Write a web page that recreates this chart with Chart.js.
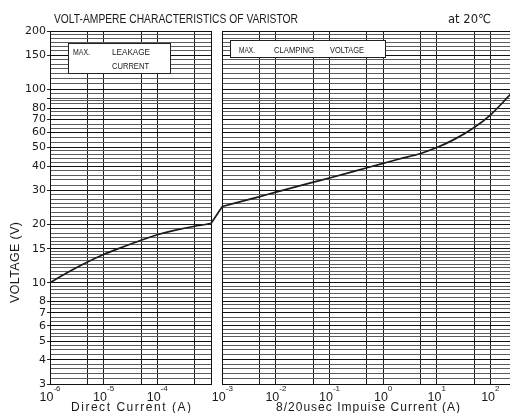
<!DOCTYPE html>
<html>
<head>
<meta charset="utf-8">
<title>Volt-ampere characteristics of varistor</title>
<script src="https://cdn.jsdelivr.net/npm/chart.js@4.4.1/dist/chart.umd.min.js"></script>
<style>
  html, body { margin: 0; padding: 0; background: #fff; }
  canvas { display: block; }
</style>
</head>
<body>
<canvas id="viChart" width="510" height="413"></canvas>
<script>
// leakage side: DC current (A) -> max voltage (V)
const dcCurrent = [1e-6, 2e-6, 5e-6, 1e-5, 2e-5, 5e-5, 1e-4, 2e-4, 5e-4, 1e-3];
const dcVoltage = [10, 11.2, 12.8, 14.0, 15.1, 16.6, 17.7, 18.6, 19.6, 20.2];

// clamping side: 8/20us impulse current (A) -> max voltage (V)
const impCurrent = [1e-3, 5e-3, 1e-2, 5e-2, 1e-1, 5e-1, 1, 2, 5, 10, 20, 50, 100, 237];
const impVoltage = [24.8, 27.9, 29.4, 33.1, 34.8, 39.3, 41.4, 43.6, 46.6, 50, 54.6, 63.5, 73.6, 94];

// voltage axis
const voltLabels = [3, 4, 5, 6, 7, 8, 10, 15, 20, 30, 40, 50, 60, 70, 80, 100, 150, 200];
const voltTickMarks = voltLabels.concat([90]);
const voltGrid = [
  3, 3.2, 3.4, 3.6, 3.8, 4, 4.25, 4.5, 4.75, 5, 5.25, 5.5, 5.75, 6, 6.3, 6.6, 7, 7.4, 7.7,
  8, 8.4, 8.8, 9.2, 9.6, 10, 10.5, 11, 11.5, 12, 12.5, 13, 13.5, 14, 14.5,
  15, 15.7, 16.4, 17.2, 18, 19, 20, 21, 22, 23.2, 24.4, 25.6, 27, 28.5,
  30, 32, 34, 36, 38, 40, 42, 44, 46, 48, 50, 53, 56, 60, 63, 66, 70, 73, 76.5,
  80, 84, 88, 90, 95, 100, 107, 114, 121, 128, 135, 142, 150, 158, 166, 174, 182, 191, 200
];

// current axis: labelled decades and vertical rules
const dcExponents = [-6, -5, -4];
const impExponents = [-3, -2, -1, 0, 1, 2];
const dcGridCurrent = [5e-6, 1e-5, 5e-5, 1e-4, 5e-4];
const impGridCurrent = [5e-3, 1e-2, 5e-2, 1e-1, 5e-1, 1, 5, 10, 50, 100];

// both panels live on one linear axis measured in decades,
// the impulse panel is pushed right by GAP to leave a blank strip
const GAP = 0.215;
const U_MIN = -6, U_MAX = 2.582;
const dcU = (a) => Math.log10(a);
const impU = (a) => Math.log10(a) + GAP;

const FONT = '"Liberation Sans", Arial, sans-serif';
const INK = '#1a1a1a';

// draws text starting at x so it spans `width`: letter-spaced if short, squeezed if long
function fitText(ctx, text, x, y, width) {
  ctx.letterSpacing = '0px';
  const natural = ctx.measureText(text).width;
  if (natural < width && text.length > 1 && 'letterSpacing' in ctx) {
    ctx.letterSpacing = ((width - natural) / (text.length - 1)).toFixed(2) + 'px';
    ctx.fillText(text, x, y);
    ctx.letterSpacing = '0px';
  } else {
    ctx.fillText(text, x, y, width);
  }
}

function drawPower(ctx, cx, exp, baseY) {
  const sup = exp < 0 ? '-' + (-exp) : String(exp);
  ctx.font = '12.5px ' + FONT;
  const w1 = ctx.measureText('10').width;
  ctx.font = '8px ' + FONT;
  const w2 = ctx.measureText(sup).width;
  const x0 = cx - (w1 + w2) / 2;
  ctx.font = '12.5px ' + FONT;
  ctx.fillText('10', x0, baseY);
  ctx.font = '8px ' + FONT;
  ctx.fillText(sup, x0 + w1, baseY - 10);
}

function labelBox(ctx, x, y, w, h) {
  ctx.fillStyle = '#fff';
  ctx.fillRect(x, y, w, h);
  ctx.strokeStyle = '#222';
  ctx.lineWidth = 1;
  ctx.strokeRect(x + 0.5, y + 0.5, w, h);
}

const panelDecor = {
  id: 'panelDecor',
  beforeDatasetsDraw(chart) {
    const { ctx, chartArea: a, scales: { x } } = chart;
    const dcEnd = Math.round(x.getPixelForValue(dcU(1e-3)));
    const impStart = Math.round(x.getPixelForValue(impU(1e-3)));
    const top = Math.round(a.top), bottom = Math.round(a.bottom), left = Math.round(a.left);
    ctx.save();
    // blank strip between the panels
    ctx.fillStyle = '#fff';
    ctx.fillRect(dcEnd + 1, top - 1, impStart - dcEnd - 1, bottom - top + 2);
    // panel frames
    ctx.strokeStyle = '#111';
    ctx.lineWidth = 1;
    ctx.strokeRect(left + 0.5, top + 0.5, dcEnd - left, bottom - top);
    ctx.beginPath();
    ctx.moveTo(a.right, top + 0.5);
    ctx.lineTo(impStart + 0.5, top + 0.5);
    ctx.lineTo(impStart + 0.5, bottom + 0.5);
    ctx.lineTo(a.right, bottom + 0.5);
    ctx.stroke();

    // panel captions
    ctx.textBaseline = 'alphabetic';
    ctx.textAlign = 'left';
    labelBox(ctx, left + 18, top + 12, 102, 30);
    ctx.fillStyle = INK;
    ctx.font = '9px ' + FONT;
    fitText(ctx, 'MAX.', left + 23, top + 24, 17);
    fitText(ctx, 'LEAKAGE', left + 62, top + 24, 38);
    fitText(ctx, 'CURRENT', left + 62, top + 38, 37);

    labelBox(ctx, impStart + 8, top + 9, 155, 17);
    ctx.fillStyle = INK;
    fitText(ctx, 'MAX.', impStart + 17, top + 22, 16);
    fitText(ctx, 'CLAMPING', impStart + 52, top + 22, 40);
    fitText(ctx, 'VOLTAGE', impStart + 108, top + 22, 34);
    ctx.restore();
  },
  afterDraw(chart) {
    const { ctx, chartArea: a, scales: { x } } = chart;
    ctx.save();
    ctx.fillStyle = INK;
    ctx.textAlign = 'left';
    ctx.textBaseline = 'alphabetic';

    ctx.font = '13px ' + FONT;
    fitText(ctx, 'VOLT-AMPERE CHARACTERISTICS OF VARISTOR', 54, 23, 244);
    ctx.font = '12.5px "DejaVu Sans", ' + FONT;
    fitText(ctx, 'at 20℃', 448, 23, 43);

    // decade labels under both panels
    const baseY = a.bottom + 17;
    dcExponents.forEach((e) => drawPower(ctx, x.getPixelForValue(dcU(Math.pow(10, e))), e, baseY));
    impExponents.forEach((e) => drawPower(ctx, x.getPixelForValue(impU(Math.pow(10, e))), e, baseY));

    ctx.font = '12px ' + FONT;
    fitText(ctx, 'Direct Current (A)', 71, 411, 120);
    fitText(ctx, '8/20usec Impuise Current (A)', 276, 411, 184);

    // rotated voltage title
    ctx.translate(19, 303);
    ctx.rotate(-Math.PI / 2);
    ctx.font = '12.5px ' + FONT;
    fitText(ctx, 'VOLTAGE (V)', 0, 0, 81);
    ctx.restore();
  }
};

new Chart(document.getElementById('viChart'), {
  type: 'line',
  data: {
    datasets: [
      {
        data: dcCurrent.map((c, i) => ({ x: dcU(c), y: dcVoltage[i] })),
        cubicInterpolationMode: 'monotone',
        borderColor: INK
      },
      {
        // straight jump from the DC end point to the impulse start point
        data: [
          { x: dcU(dcCurrent[dcCurrent.length - 1]), y: dcVoltage[dcVoltage.length - 1] },
          { x: impU(impCurrent[0]), y: impVoltage[0] }
        ],
        tension: 0,
        borderColor: INK
      },
      {
        data: impCurrent.map((c, i) => ({ x: impU(c), y: impVoltage[i] })),
        cubicInterpolationMode: 'monotone',
        borderColor: INK
      }
    ]
  },
  options: {
    responsive: false,
    animation: false,
    layout: { padding: { top: 31, left: 0, right: 0, bottom: 0 } },
    elements: { point: { radius: 0 }, line: { borderWidth: 1.7 } },
    plugins: { legend: { display: false }, tooltip: { enabled: false } },
    scales: {
      x: {
        type: 'linear',
        min: U_MIN,
        max: U_MAX,
        afterBuildTicks(scale) {
          scale.ticks = dcGridCurrent.map((c) => ({ value: dcU(c) }))
            .concat(impGridCurrent.map((c) => ({ value: impU(c) })));
        },
        afterFit(scale) { scale.height = 29; },
        ticks: { display: false },
        grid: { color: '#1c1c1c', lineWidth: 1, drawTicks: false },
        border: { display: false }
      },
      y: {
        type: 'logarithmic',
        min: 3,
        max: 200,
        afterBuildTicks(scale) {
          scale.ticks = voltGrid.map((v) => ({ value: v }));
        },
        afterFit(scale) { scale.width = 50; },
        ticks: {
          autoSkip: false,
          padding: 1,
          color: INK,
          font: { family: '"DejaVu Sans", sans-serif', size: 11 },
          callback: (v) => (voltLabels.includes(v) ? String(v) : '')
        },
        grid: {
          color: (c) => (voltLabels.includes(c.tick && c.tick.value) ? '#111' : '#5c5c5c'),
          lineWidth: 1,
          tickLength: 3,
          tickColor: (c) => (voltTickMarks.includes(c.tick && c.tick.value) ? '#222' : 'rgba(0,0,0,0)')
        },
        border: { display: false }
      }
    }
  },
  plugins: [panelDecor]
});
</script>
</body>
</html>
